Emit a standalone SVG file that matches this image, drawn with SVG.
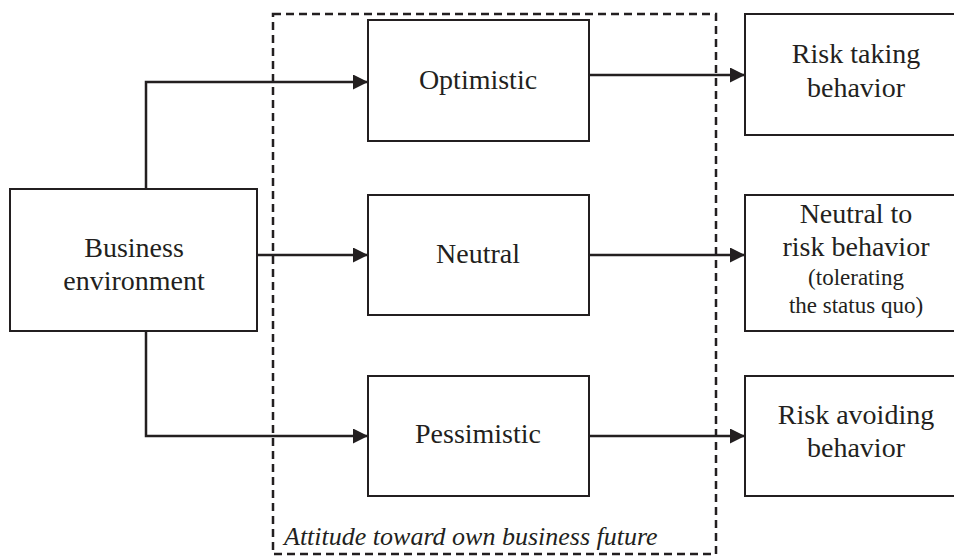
<svg xmlns="http://www.w3.org/2000/svg" width="954" height="556" viewBox="0 0 954 556" font-family="Liberation Serif, DejaVu Serif, serif">
<defs>
<style>
.box{fill:#fff;stroke:#231f20;stroke-width:2}
.t{font-size:28px;fill:#231f20;text-anchor:middle}
.s{font-size:23px}
.c{fill:none;stroke:#231f20;stroke-width:2.5}
.dash{fill:none;stroke:#231f20;stroke-width:2.5;stroke-dasharray:8 5}
</style>
<marker id="ah" markerWidth="15" markerHeight="15" refX="15" refY="7.5" orient="auto" markerUnits="userSpaceOnUse">
<path d="M0,0 L15,7.5 L0,15 Z" fill="#231f20"/>
</marker>
</defs>
<rect width="954" height="556" fill="#fff"/>
<g id="group-attitude">
<rect class="dash" x="273" y="14" width="443" height="540"/>
<text class="t" x="284" y="545" font-family="Liberation Serif, serif" font-style="italic" style="text-anchor:start;font-size:26px">Attitude toward own business future</text>
</g>
<g id="connectors">
<polyline class="c" points="146,189 146,82 368,82" marker-end="url(#ah)"/>
<line class="c" x1="257" y1="255" x2="368" y2="255" marker-end="url(#ah)"/>
<polyline class="c" points="146,331 146,436 368,436" marker-end="url(#ah)"/>
<line class="c" x1="589" y1="75" x2="745" y2="75" marker-end="url(#ah)"/>
<line class="c" x1="589" y1="255" x2="745" y2="255" marker-end="url(#ah)"/>
<line class="c" x1="589" y1="436" x2="745" y2="436" marker-end="url(#ah)"/>
</g>
<g id="business-environment">
<rect class="box" x="10" y="189" width="247" height="142"/>
<text class="t" x="134" y="257" font-family="Liberation Serif, serif">Business</text>
<text class="t" x="134" y="290" font-family="Liberation Serif, serif">environment</text>
</g>
<g id="optimistic">
<rect class="box" x="368" y="20" width="221" height="121"/>
<text class="t" x="478" y="89" font-family="Liberation Serif, serif">Optimistic</text>
</g>
<g id="neutral">
<rect class="box" x="368" y="195" width="221" height="120"/>
<text class="t" x="478" y="263" font-family="Liberation Serif, serif">Neutral</text>
</g>
<g id="pessimistic">
<rect class="box" x="368" y="376" width="221" height="120"/>
<text class="t" x="478" y="443" font-family="Liberation Serif, serif">Pessimistic</text>
</g>
<g id="risk-taking">
<rect class="box" x="745" y="14" width="222" height="121"/>
<text class="t" x="856" y="63" font-family="Liberation Serif, serif">Risk taking</text>
<text class="t" x="856" y="97" font-family="Liberation Serif, serif">behavior</text>
</g>
<g id="neutral-risk">
<rect class="box" x="745" y="195" width="222" height="136"/>
<text class="t" x="856" y="223" font-family="Liberation Serif, serif">Neutral to</text>
<text class="t" x="856" y="256" font-family="Liberation Serif, serif">risk behavior</text>
<text class="t s" x="856" y="285" font-family="Liberation Serif, serif">(tolerating</text>
<text class="t s" x="856" y="313" font-family="Liberation Serif, serif">the status quo)</text>
</g>
<g id="risk-avoiding">
<rect class="box" x="745" y="376" width="222" height="120"/>
<text class="t" x="856" y="424" font-family="Liberation Serif, serif">Risk avoiding</text>
<text class="t" x="856" y="457" font-family="Liberation Serif, serif">behavior</text>
</g>
</svg>
